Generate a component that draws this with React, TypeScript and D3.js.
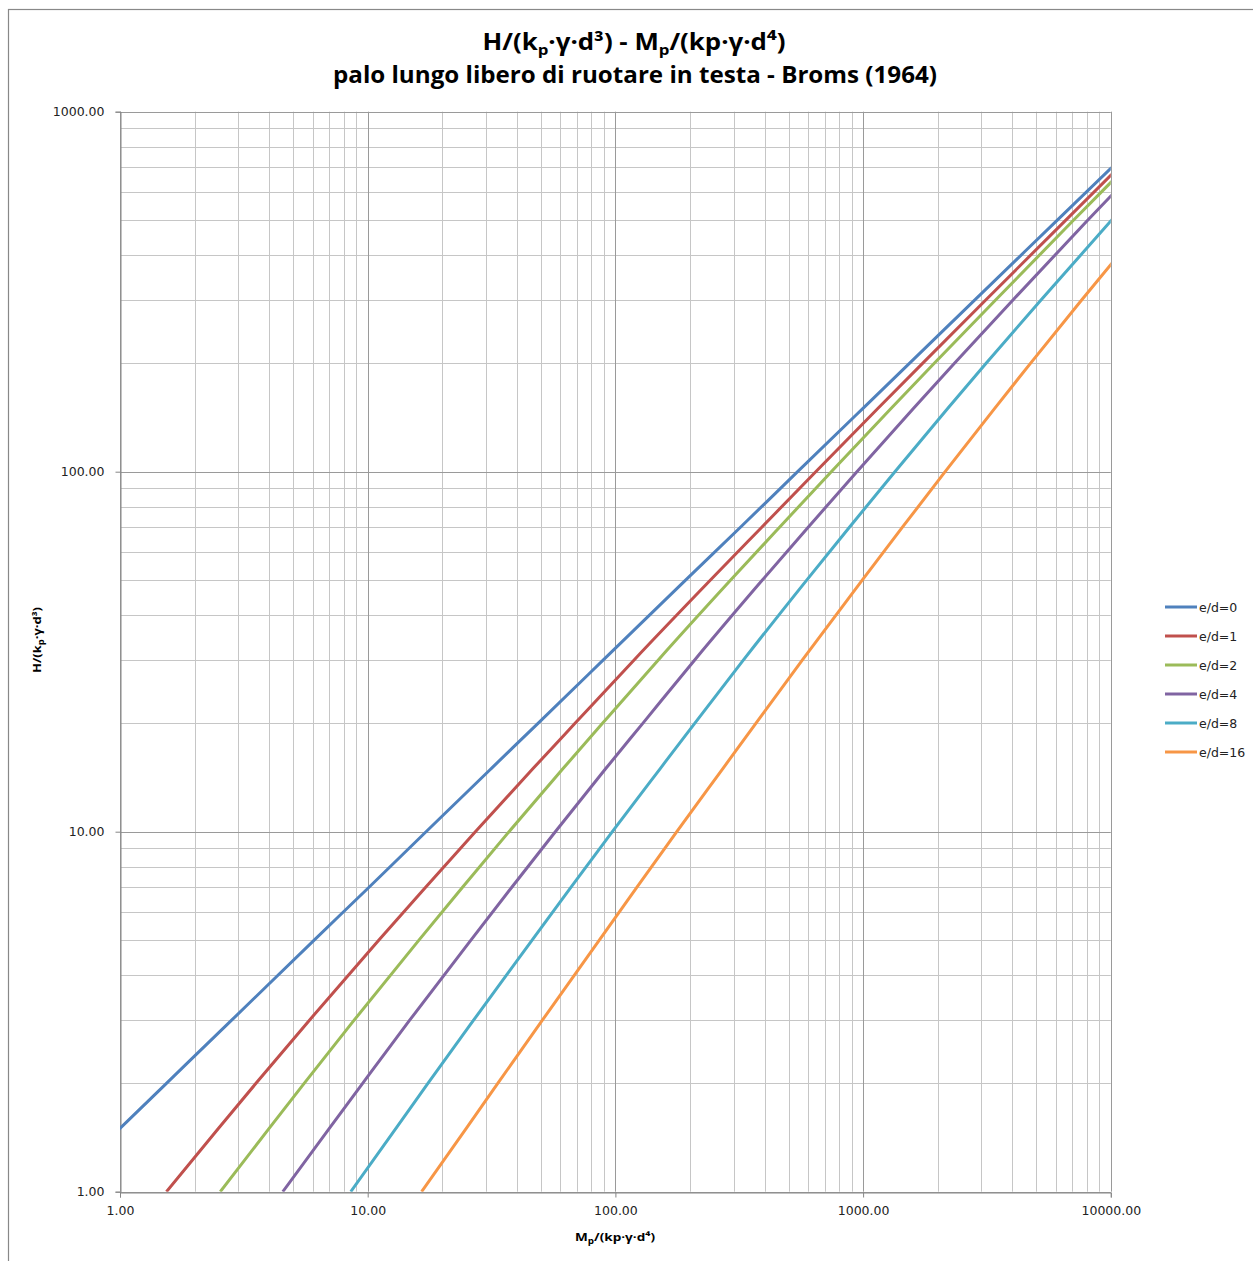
import React, { useEffect, useRef } from 'react';
import * as d3 from 'd3';

const hLevels = [1, 1.5, 2, 3, 5, 7, 10, 15, 20, 30, 50, 70, 100, 150, 200, 300, 500, 700];

// Mp/(kp·γ·d⁴) read for each curve at the H levels above
const mE0 = [0.54, 1.0, 1.54, 2.83, 6.08, 10.1, 17.2, 31.6, 48.7, 89.4, 192, 319, 544, 999, 1538, 2827, 6082, 10075];
const mE1 = [1.54, 2.5, 3.54, 5.83, 11.1, 17.1, 27.2, 46.6, 68.7, 119, 242, 389, 644, 1149, 1738, 3127, 6582, 10775];
const mE2 = [2.54, 4.0, 5.54, 8.83, 16.1, 24.1, 37.2, 61.6, 88.7, 149, 292, 459, 744, 1299, 1938, 3427, 7082, 11475];
const mE4 = [4.54, 7.0, 9.54, 14.8, 26.1, 38.1, 57.2, 91.6, 129, 209, 392, 599, 944, 1599, 2338, 4027, 8082, 12875];
const mE8 = [8.54, 13.0, 17.5, 26.8, 46.1, 66.1, 97.2, 152, 209, 329, 592, 879, 1344, 2199, 3138, 5227, 10082, 15675];
const mE16 = [16.5, 25.0, 33.5, 50.8, 86.1, 122, 177, 272, 369, 569, 992, 1439, 2144, 3399, 4738, 7627, 14082, 21275];

const seriesNames = ['e/d=0', 'e/d=1', 'e/d=2', 'e/d=4', 'e/d=8', 'e/d=16'];
const seriesM = [mE0, mE1, mE2, mE4, mE8, mE16];
const colors = ['#4F81BD', '#C0504D', '#9BBB59', '#8064A2', '#4BACC6', '#F79646'];

const xTicks = [1, 10, 100, 1000, 10000];
const yTicks = [1, 10, 100, 1000];

const W = 1253;
const H = 1261;
const plot = { left: 120, right: 1110.8, top: 111.7, bottom: 1191.7 };

const App = () => {
  const svgRef = useRef<SVGSVGElement>(null);

  useEffect(() => {
    const svg = d3.select(svgRef.current);
    svg.selectAll('*').remove();

    const x = d3.scaleLog().domain([1, 10000]).range([plot.left, plot.right]);
    const y = d3.scaleLog().domain([1, 1000]).range([plot.bottom, plot.top]);

    // outer chart frame (right and bottom run off the picture)
    svg.append('rect')
      .attr('x', 8.5).attr('y', 9.5)
      .attr('width', W + 20).attr('height', H + 20)
      .attr('fill', '#fff')
      .attr('stroke', '#888').attr('stroke-width', 1.2);

    svg.append('defs').append('clipPath').attr('id', 'plotclip')
      .append('rect')
      .attr('x', plot.left).attr('y', plot.top)
      .attr('width', plot.right - plot.left).attr('height', plot.bottom - plot.top);

    const grid = svg.append('g');

    // minor gridlines
    const minorX: number[] = [];
    for (let p = 0; p < 4; p++) for (let k = 2; k <= 9; k++) minorX.push(k * Math.pow(10, p));
    const minorY: number[] = [];
    for (let p = 0; p < 3; p++) for (let k = 2; k <= 9; k++) minorY.push(k * Math.pow(10, p));

    grid.selectAll('.mx').data(minorX).join('line')
      .attr('x1', (d) => Math.round(x(d)) + 0.5).attr('x2', (d) => Math.round(x(d)) + 0.5)
      .attr('y1', plot.top).attr('y2', plot.bottom)
      .attr('stroke', '#c6c6c6').attr('stroke-width', 1);
    grid.selectAll('.my').data(minorY).join('line')
      .attr('y1', (d) => Math.round(y(d)) + 0.5).attr('y2', (d) => Math.round(y(d)) + 0.5)
      .attr('x1', plot.left).attr('x2', plot.right)
      .attr('stroke', '#c6c6c6').attr('stroke-width', 1);

    // major gridlines
    grid.selectAll('.Mx').data(xTicks).join('line')
      .attr('x1', (d) => Math.round(x(d)) + 0.5).attr('x2', (d) => Math.round(x(d)) + 0.5)
      .attr('y1', plot.top).attr('y2', plot.bottom)
      .attr('stroke', '#9a9a9a').attr('stroke-width', 1);
    grid.selectAll('.My').data(yTicks).join('line')
      .attr('y1', (d) => Math.round(y(d)) + 0.5).attr('y2', (d) => Math.round(y(d)) + 0.5)
      .attr('x1', plot.left).attr('x2', plot.right)
      .attr('stroke', '#9a9a9a').attr('stroke-width', 1);

    // axes
    const fmt = (d: number) => d.toFixed(2);
    const xAxis = svg.append('g').attr('transform', `translate(0,${Math.round(plot.bottom) + 0.5})`)
      .call(d3.axisBottom(x).tickValues(xTicks).tickFormat((d) => fmt(+d)).tickSize(5).tickPadding(9));
    const yAxis = svg.append('g').attr('transform', `translate(${Math.round(plot.left) + 0.5},0)`)
      .call(d3.axisLeft(y).tickValues(yTicks).tickFormat((d) => fmt(+d)).tickSize(5).tickPadding(11));
    [xAxis, yAxis].forEach((a) => {
      a.select('.domain').attr('stroke', '#868686');
      a.selectAll('.tick line').attr('stroke', '#868686');
      a.selectAll('.tick text')
        .attr('fill', '#222')
        .style('font-family', '"DejaVu Sans", sans-serif')
        .style('font-size', '12.5px');
    });

    // curves
    const line = d3.line<[number, number]>()
      .x((d) => x(d[0]))
      .y((d) => y(d[1]))
      .curve(d3.curveMonotoneX);

    const lines = svg.append('g').attr('clip-path', 'url(#plotclip)');
    seriesM.forEach((ms, i) => {
      const pts: [number, number][] = ms.map((m, j) => [m, hLevels[j]]);
      lines.append('path')
        .attr('d', line(pts))
        .attr('fill', 'none')
        .attr('stroke', colors[i])
        .attr('stroke-width', 3)
        .attr('stroke-linejoin', 'round');
    });

    // legend
    const legend = svg.append('g');
    seriesNames.forEach((name, i) => {
      const ly = 607 + i * 29;
      legend.append('line')
        .attr('x1', 1165).attr('x2', 1197).attr('y1', ly).attr('y2', ly)
        .attr('stroke', colors[i]).attr('stroke-width', 3);
      legend.append('text')
        .attr('x', 1199).attr('y', ly + 4.5)
        .text(name)
        .style('font-family', '"DejaVu Sans", sans-serif')
        .style('font-size', '12.5px')
        .attr('fill', '#222');
    });

    // titles
    const titleFont = '"Open Sans", "Noto Sans", sans-serif';
    const t1 = svg.append('text')
      .attr('x', 634).attr('y', 50)
      .attr('text-anchor', 'middle')
      .style('font-family', titleFont).style('font-weight', 'bold').style('font-size', '23px')
      .attr('fill', '#000')
      .attr('textLength', 303).attr('lengthAdjust', 'spacingAndGlyphs');
    t1.append('tspan').text('H/(k');
    t1.append('tspan').text('p').attr('dy', 5).style('font-size', '15px');
    t1.append('tspan').text('·γ·d³) - M').attr('dy', -5);
    t1.append('tspan').text('p').attr('dy', 5).style('font-size', '15px');
    t1.append('tspan').text('/(kp·γ·d⁴)').attr('dy', -5);

    svg.append('text')
      .attr('x', 635).attr('y', 83)
      .attr('text-anchor', 'middle')
      .style('font-family', titleFont).style('font-weight', 'bold').style('font-size', '23px')
      .attr('fill', '#000')
      .attr('textLength', 604).attr('lengthAdjust', 'spacingAndGlyphs')
      .text('palo lungo libero di ruotare in testa - Broms (1964)');

    // x axis title
    const xt = svg.append('text')
      .attr('x', 615).attr('y', 1241)
      .attr('text-anchor', 'middle')
      .style('font-family', titleFont).style('font-weight', 'bold').style('font-size', '11px')
      .attr('fill', '#000')
      .attr('textLength', 80).attr('lengthAdjust', 'spacingAndGlyphs');
    xt.append('tspan').text('M');
    xt.append('tspan').text('p').attr('dy', 3).style('font-size', '8px');
    xt.append('tspan').text('/(kp·γ·d⁴)').attr('dy', -3);

    // y axis title
    const yt = svg.append('text')
      .attr('transform', 'translate(41,640) rotate(-90)')
      .attr('text-anchor', 'middle')
      .style('font-family', titleFont).style('font-weight', 'bold').style('font-size', '11px')
      .attr('fill', '#000')
      .attr('textLength', 66).attr('lengthAdjust', 'spacingAndGlyphs');
    yt.append('tspan').text('H/(k');
    yt.append('tspan').text('p').attr('dy', 3).style('font-size', '8px');
    yt.append('tspan').text('·γ·d³)').attr('dy', -3);
  }, []);

  return (
    <svg
      ref={svgRef}
      width={W}
      height={H}
      style={{ position: 'absolute', left: 0, top: 0, background: '#fff' }}
    />
  );
};

export default App;
